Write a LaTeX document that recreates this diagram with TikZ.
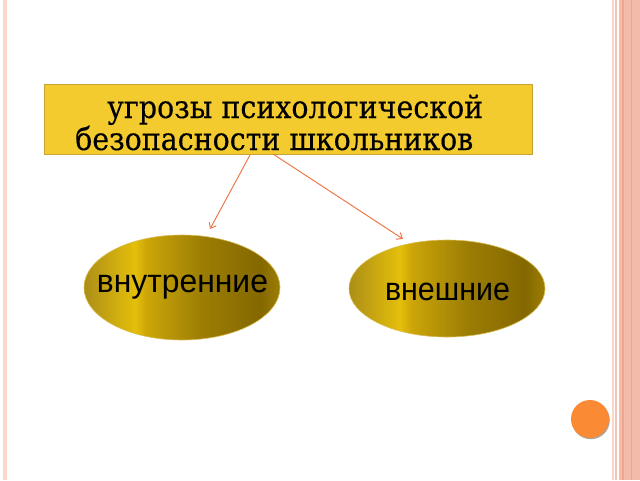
\documentclass[tikz,border=0pt]{standalone}
\usepackage{fontspec}
\setmainfont{DejaVu Serif}[FakeBold=0.25]
\newfontfamily\armfont{Liberation Sans}
\usetikzlibrary{arrows.meta,shapes.geometric}
\definecolor{boxfill}{HTML}{F4CB2F}
\definecolor{boxline}{HTML}{C9A234}
\definecolor{arrowc}{HTML}{EE7A4A}
\definecolor{dotc}{HTML}{FB8A34}
\definecolor{pinkA}{HTML}{FAD6CB}
\definecolor{pinkB}{HTML}{F5C2B3}
\definecolor{pinkC}{HTML}{F2BBAA}
\definecolor{pinkD}{HTML}{EEA68F}
\definecolor{gA}{HTML}{AC8E18}
\definecolor{gB}{HTML}{E4BF0A}
\definecolor{gC}{HTML}{CCA508}
\definecolor{gD}{HTML}{9C7E04}
\definecolor{gE}{HTML}{846800}
\definecolor{grim}{HTML}{D8BC50}
\pgfdeclarehorizontalshading{goldsh}{100bp}{color(0bp)=(gA); color(25bp)=(gA); color(38bp)=(gB); color(41bp)=(gC); color(55bp)=(gD); color(70bp)=(gE); color(75bp)=(gD); color(100bp)=(gD)}
\tikzset{
  threat/.style={draw=boxline, line width=0.8pt, fill=boxfill, minimum width=488pt, minimum height=70pt, inner sep=0pt},
  headtxt/.style={anchor=base west, inner sep=0pt, font=\fontsize{31.5}{34}\selectfont},
  goldell/.style={ellipse, draw=grim, line width=0.6pt, shading=goldsh, inner sep=0pt},
  elltxt/.style={anchor=base, inner sep=0pt, font=\armfont\fontsize{32.5}{34}\selectfont},
  link/.style={draw=arrowc, line width=1pt, -{Straight Barb[length=5pt,width=8pt]}}
}
\begin{document}
\begin{tikzpicture}[x=1pt,y=-1pt]
\useasboundingbox (0,0) rectangle (640,480);
\fill[white] (0,0) rectangle (640,480);
% borders
\fill[pinkA] (3,0) rectangle (7,480);
\fill[pinkA] (612,0) rectangle (613.5,480);
\fill[pinkB] (614.5,0) rectangle (616.5,480);
\fill[pinkC] (619,0) rectangle (640,480);
\fill[pinkD] (622,0) rectangle (623.5,480);
\fill[pinkD] (631,0) rectangle (632,480);
% box
\node[threat] (box) at (288,119) {};
\node[headtxt] (l1) at (107,118) {\resizebox{376pt}{\height}{угрозы психологической}};
\node[headtxt] (l2) at (75,150) {\resizebox{398pt}{\height}{безопасности школьников}};
% ellipses
\node[goldell, minimum width=196pt, minimum height=105pt] (in) at (182,287.5) {};
\node[goldell, minimum width=196pt, minimum height=97pt] (ex) at (447,288.5) {};
\node[elltxt] (intxt) at (182.5,292) {\resizebox{171pt}{\height}{внутренние}};
\node[elltxt] (extxt) at (447.5,300) {\resizebox{125pt}{\height}{внешние}};
% arrows
\coordinate (s1) at (250,155);
\coordinate (s2) at (273,154);
\coordinate (e1) at (210,229);
\coordinate (e2) at (403,239);
\draw[link] (s1) -- (e1);
\draw[link] (s2) -- (e2);
% dot
\fill[black!35] (590.8,420.2) circle (19);
\fill[dotc] (590,419) circle (19);
\end{tikzpicture}
\end{document}
